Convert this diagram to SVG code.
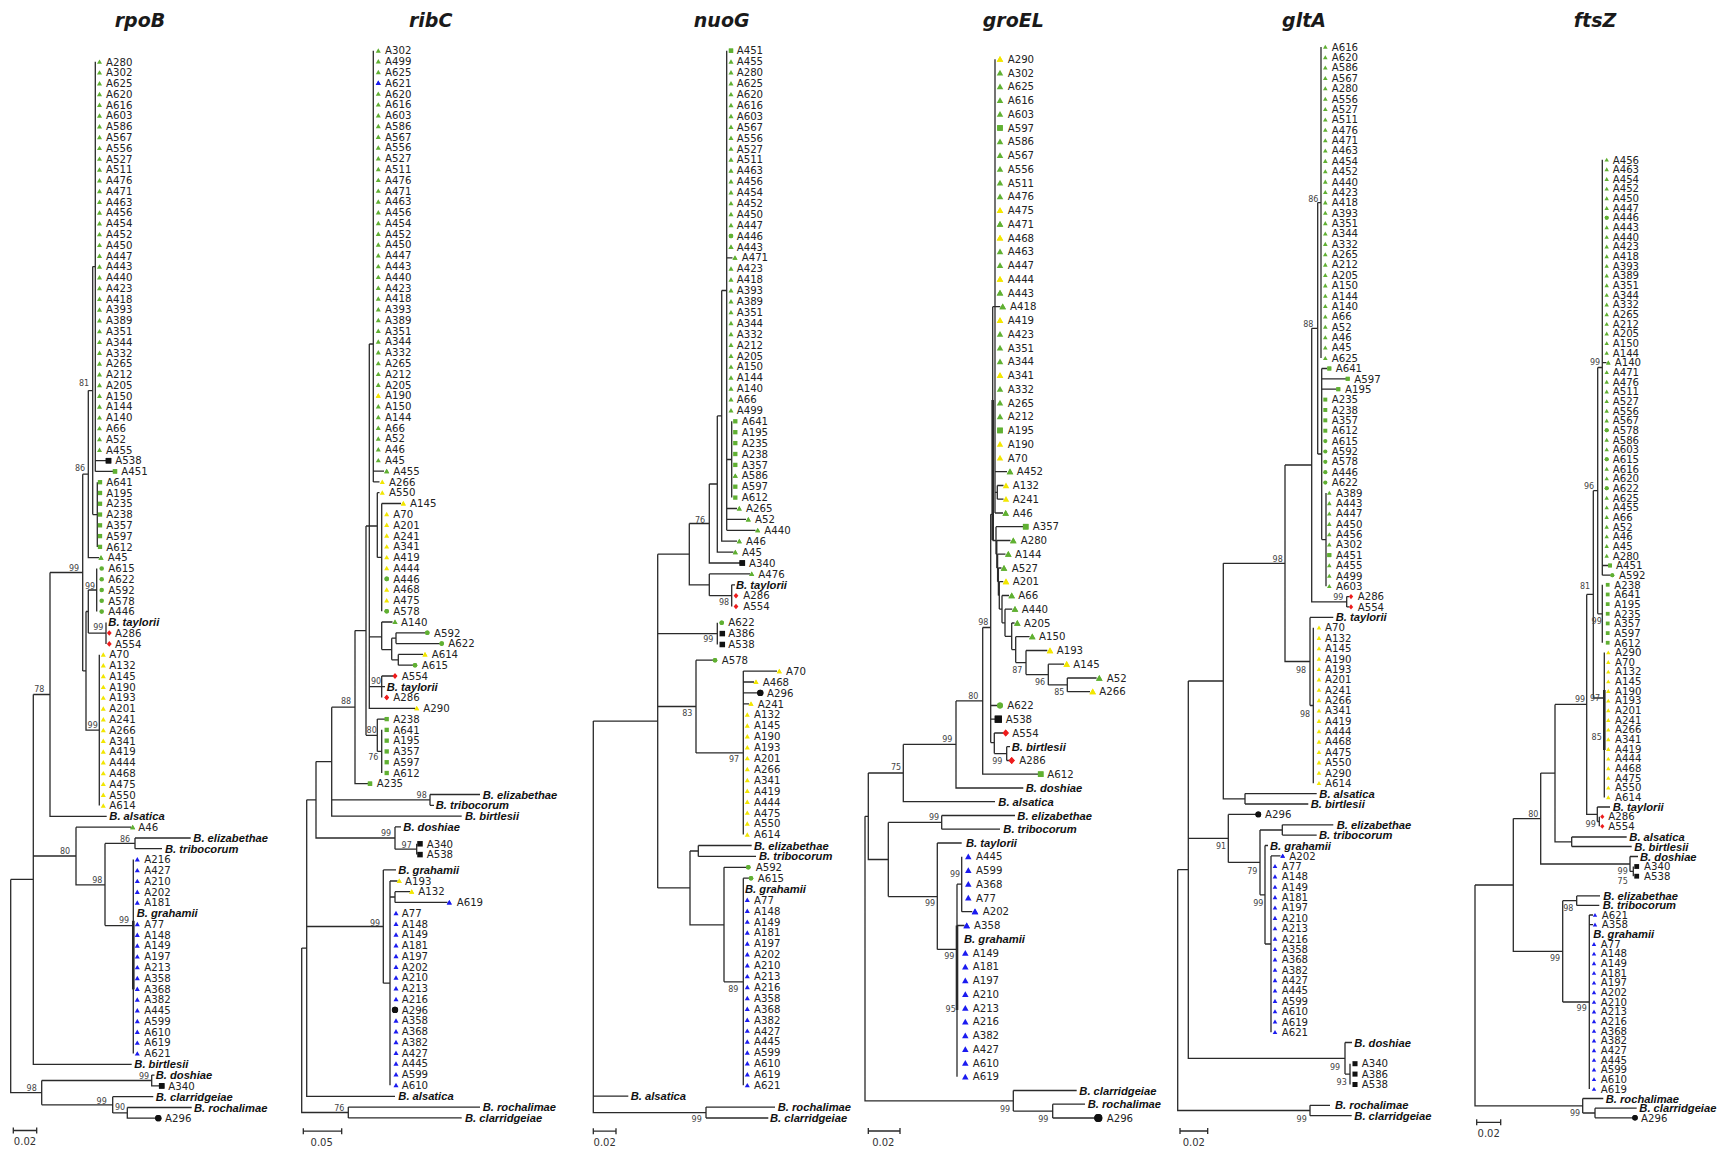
<svg xmlns="http://www.w3.org/2000/svg" width="1721" height="1152" viewBox="0 0 1721 1152">
<style>
.t{font:10.2px "DejaVu Sans",sans-serif;fill:#222}
.s{font:italic bold 11.2px "Liberation Sans",Arial,sans-serif;fill:#111}
.b{font:8px "DejaVu Sans",sans-serif;fill:#444;text-anchor:middle}
.h{font:italic bold 19px "DejaVu Sans",sans-serif;fill:#1a1a1a;text-anchor:middle}
.sc{font:10px "DejaVu Sans",sans-serif;fill:#333;text-anchor:middle}
.br{fill:none;stroke:#2a2a2a;stroke-width:1.3}
.th{fill:none;stroke:#2a2a2a;stroke-width:2.6}
.k{fill:none;stroke:none}
.Tg{marker-start:url(#Tg);marker-mid:url(#Tg);marker-end:url(#Tg)}
.Ty{marker-start:url(#Ty);marker-mid:url(#Ty);marker-end:url(#Ty)}
.Tb{marker-start:url(#Tb);marker-mid:url(#Tb);marker-end:url(#Tb)}
.Sg{marker-start:url(#Sg);marker-mid:url(#Sg);marker-end:url(#Sg)}
.Cg{marker-start:url(#Cg);marker-mid:url(#Cg);marker-end:url(#Cg)}
.Rd{marker-start:url(#Rd);marker-mid:url(#Rd);marker-end:url(#Rd)}
.Ks{marker-start:url(#Ks);marker-mid:url(#Ks);marker-end:url(#Ks)}
.Ok{marker-start:url(#Ok);marker-mid:url(#Ok);marker-end:url(#Ok)}
</style>
<defs>
<marker id="Tg" overflow="visible" orient="0"><path d="M0,-2L2.1,1.7H-2.1Z" fill="#60b032"/></marker>
<marker id="Ty" overflow="visible" orient="0"><path d="M0,-2L2.1,1.7H-2.1Z" fill="#f2e600"/></marker>
<marker id="Tb" overflow="visible" orient="0"><path d="M0,-2L2.1,1.7H-2.1Z" fill="#1b1bf0"/></marker>
<marker id="Sg" overflow="visible" orient="0"><path d="M-1.8,-1.8h3.6v3.6h-3.6z" fill="#60b032"/></marker>
<marker id="Cg" overflow="visible" orient="0"><circle r="1.9" fill="#60b032"/></marker>
<marker id="Rd" overflow="visible" orient="0"><path d="M0,-2.3L2,0L0,2.3L-2,0Z" fill="#ee1c1c"/></marker>
<marker id="Ks" overflow="visible" orient="0"><path d="M-2.3,-2.3h4.6v4.6h-4.6z" fill="#111"/></marker>
<marker id="Ok" overflow="visible" orient="0"><circle r="2.6" fill="#111"/></marker>
</defs>
<rect width="1721" height="1152" fill="#fff"/>

<!-- ===== rpoB ===== -->
<g id="tree-rpoB">
<text class="h" x="140" y="27">rpoB</text>
<g id="rpoB-edges">
<path class="br" d="M95.3,61.8V471.4M95.3,460.7H107M95.3,471.4H113.5M92.7,266.6H95.3M92.7,266.6V514.6M92.7,514.6H97.3M97.3,482.2V546.9M88.3,390.6H92.7M88.3,390.6V557.7H99M82.7,474.2H88.3M82.7,474.2V670.9M82.7,670.9H86M86,611.5V730.2H99.3M86,611.5H88.3M88.3,590V633.1M88.3,590H96.7M96.7,568.5V611.6M88.3,633.1H106M106,622.4V643.9M99.3,654.7V805.6M50,572.5H82.7M50,572.5V816.4H106.7M33.3,694.5H50M33.3,694.5V1064.3H131.7M33.3,856H76M76,827.2V884.8H105M76,827.2H131M105,843.4V925.6M105,843.4H135M135,838V848.7M135,838H190.7M135,848.7H162M105,925.6H133.3M133.3,859.5V1053.6M10.7,879.4H33.3M10.7,879.4V1092.7H41.7M41.7,1080.5V1104.8M41.7,1080.5H151.7M151.7,1075.1V1085.9H160M151.7,1075.1H154.5M41.7,1104.8H112.7M112.7,1096.7V1112.9M112.7,1096.7H153.3M112.7,1112.9H127.3M127.3,1107.5V1118.2H156M127.3,1107.5H191.7"/>
<path class="th" d="M133.3,920.8V989.4"/>
<path class="br" d="M13.3,1130.5H36.7M13.3,1127.5V1133.5M36.7,1127.5V1133.5"/>
</g>
<g id="rpoB-tips" style="stroke-width:1.2">
<path class="k Tg" d="M99.5,61.8v10.78v10.78v10.78v10.78v10.78v10.78v10.78v10.78v10.78v10.78v10.78v10.78v10.78v10.78v10.78v10.78v10.78v10.78v10.78v10.78v10.78v10.78v10.78v10.78v10.78v10.78v10.78v10.78v10.78v10.78v10.78v10.78v10.78v10.78v10.78v10.78M101,557.7h0M132.7,827.2h0"/>
<path class="k Ks" d="M108.5,460.7h0M161.7,1085.9h0"/>
<path class="k Sg" d="M115,471.4h0M100,482.2v10.78v10.78v10.78v10.78v10.78v10.78"/>
<path class="k Cg" d="M101.7,568.5v10.78v10.78v10.78v10.78"/>
<path class="k Rd" d="M109.3,633.1v10.78"/>
<path class="k Ty" d="M103.3,654.7v10.78v10.78v10.78v10.78v10.78v10.78v10.78v10.78v10.78v10.78v10.78v10.78v10.78v10.78"/>
<path class="k Tb" d="M137.3,859.5v10.78v10.78v10.78v10.78M137.3,924.2v10.78v10.78v10.78v10.78v10.78v10.78v10.78v10.78v10.78v10.78v10.78v10.78"/>
<path class="k Ok" d="M158.3,1118.2h0"/>
<text class="t"><tspan x="106" y="65.5">A280</tspan><tspan x="106" dy="10.78">A302</tspan><tspan x="106" dy="10.78">A625</tspan><tspan x="106" dy="10.78">A620</tspan><tspan x="106" dy="10.78">A616</tspan><tspan x="106" dy="10.78">A603</tspan><tspan x="106" dy="10.78">A586</tspan><tspan x="106" dy="10.78">A567</tspan><tspan x="106" dy="10.78">A556</tspan><tspan x="106" dy="10.78">A527</tspan><tspan x="106" dy="10.78">A511</tspan><tspan x="106" dy="10.78">A476</tspan><tspan x="106" dy="10.78">A471</tspan><tspan x="106" dy="10.78">A463</tspan><tspan x="106" dy="10.78">A456</tspan><tspan x="106" dy="10.78">A454</tspan><tspan x="106" dy="10.78">A452</tspan><tspan x="106" dy="10.78">A450</tspan><tspan x="106" dy="10.78">A447</tspan><tspan x="106" dy="10.78">A443</tspan><tspan x="106" dy="10.78">A440</tspan><tspan x="106" dy="10.78">A423</tspan><tspan x="106" dy="10.78">A418</tspan><tspan x="106" dy="10.78">A393</tspan><tspan x="106" dy="10.78">A389</tspan><tspan x="106" dy="10.78">A351</tspan><tspan x="106" dy="10.78">A344</tspan><tspan x="106" dy="10.78">A332</tspan><tspan x="106" dy="10.78">A265</tspan><tspan x="106" dy="10.78">A212</tspan><tspan x="106" dy="10.78">A205</tspan><tspan x="106" dy="10.78">A150</tspan><tspan x="106" dy="10.78">A144</tspan><tspan x="106" dy="10.78">A140</tspan><tspan x="106" dy="10.78">A66</tspan><tspan x="106" dy="10.78">A52</tspan><tspan x="106" dy="10.78">A455</tspan><tspan x="115.3" dy="10.78">A538</tspan><tspan x="121.3" dy="10.78">A451</tspan><tspan x="106.3" dy="10.78">A641</tspan><tspan x="106.3" dy="10.78">A195</tspan><tspan x="106.3" dy="10.78">A235</tspan><tspan x="106.3" dy="10.78">A238</tspan><tspan x="106.3" dy="10.78">A357</tspan><tspan x="106.3" dy="10.78">A597</tspan><tspan x="106.3" dy="10.78">A612</tspan><tspan x="107.7" dy="10.78">A45</tspan><tspan x="108.3" dy="10.78">A615</tspan><tspan x="108.3" dy="10.78">A622</tspan><tspan x="108.3" dy="10.78">A592</tspan><tspan x="108.3" dy="10.78">A578</tspan><tspan x="108.3" dy="10.78">A446</tspan><tspan x="115" y="636.8">A286</tspan><tspan x="115" dy="10.78">A554</tspan><tspan x="109.3" dy="10.78">A70</tspan><tspan x="109.3" dy="10.78">A132</tspan><tspan x="109.3" dy="10.78">A145</tspan><tspan x="109.3" dy="10.78">A190</tspan><tspan x="109.3" dy="10.78">A193</tspan><tspan x="109.3" dy="10.78">A201</tspan><tspan x="109.3" dy="10.78">A241</tspan><tspan x="109.3" dy="10.78">A266</tspan><tspan x="109.3" dy="10.78">A341</tspan><tspan x="109.3" dy="10.78">A419</tspan><tspan x="109.3" dy="10.78">A444</tspan><tspan x="109.3" dy="10.78">A468</tspan><tspan x="109.3" dy="10.78">A475</tspan><tspan x="109.3" dy="10.78">A550</tspan><tspan x="109.3" dy="10.78">A614</tspan><tspan x="138.3" y="830.9">A46</tspan><tspan x="144.3" y="863.2">A216</tspan><tspan x="144.3" dy="10.78">A427</tspan><tspan x="144.3" dy="10.78">A210</tspan><tspan x="144.3" dy="10.78">A202</tspan><tspan x="144.3" dy="10.78">A181</tspan><tspan x="144.3" y="927.9">A77</tspan><tspan x="144.3" dy="10.78">A148</tspan><tspan x="144.3" dy="10.78">A149</tspan><tspan x="144.3" dy="10.78">A197</tspan><tspan x="144.3" dy="10.78">A213</tspan><tspan x="144.3" dy="10.78">A358</tspan><tspan x="144.3" dy="10.78">A368</tspan><tspan x="144.3" dy="10.78">A382</tspan><tspan x="144.3" dy="10.78">A445</tspan><tspan x="144.3" dy="10.78">A599</tspan><tspan x="144.3" dy="10.78">A610</tspan><tspan x="144.3" dy="10.78">A619</tspan><tspan x="144.3" dy="10.78">A621</tspan><tspan x="168.3" y="1089.6">A340</tspan><tspan x="165" y="1121.9">A296</tspan></text>
<text class="s"><tspan x="108.3" y="626.4">B. taylorii</tspan><tspan x="109.3" y="820.4">B. alsatica</tspan><tspan x="193.3" y="842">B. elizabethae</tspan><tspan x="165" y="852.7">B. tribocorum</tspan><tspan x="136.7" y="917.4">B. grahamii</tspan><tspan x="134.3" y="1068.3">B. birtlesii</tspan><tspan x="155.7" y="1079.1">B. doshiae</tspan><tspan x="155.7" y="1100.7">B. clarridgeiae</tspan><tspan x="194" y="1111.5">B. rochalimae</tspan></text>
</g>
<g id="rpoB-support">
<text class="b" x="84" y="386">81</text><text class="b" x="80" y="471">86</text><text class="b" x="74" y="571">99</text><text class="b" x="90" y="588.5">99</text><text class="b" x="98.3" y="630.4">99</text><text class="b" x="92.7" y="728">99</text><text class="b" x="39.3" y="691.7">78</text><text class="b" x="65" y="854">80</text><text class="b" x="125" y="842">86</text><text class="b" x="97.3" y="883">98</text><text class="b" x="124" y="922.6">99</text><text class="b" x="31.7" y="1090.7">98</text><text class="b" x="144" y="1078.5">99</text><text class="b" x="101.7" y="1103.7">99</text><text class="b" x="120" y="1110">90</text>
<text class="sc" x="25" y="1145">0.02</text>
</g>
</g>

<!-- ===== ribC ===== -->
<g id="tree-ribC">
<text class="h" x="430.7" y="27">ribC</text>
<g id="ribC-edges">
<path class="br" d="M373.3,50.7V481.9M373.3,471.1H384M373.3,481.9H379.5M369.3,344H373.3M369.3,344V708.3H415M366,526H377.3M377.3,492.7V557.4M377.3,492.7H379.5M377.3,557.4H381.7M381.7,503.5V611.3M381.7,503.5H401M369.3,636.8H381.7M381.7,622V649.6M381.7,622H392.5M381.7,649.6H391.7M391.7,638.2V659.8M391.7,638.2H396M396,632.8V643.6M396,632.8H425M396,643.6H440M391.7,659.8H398.3M398.3,654.4V665.2M398.3,654.4H423M398.3,665.2H413M369.3,686.7H381.7M381.7,676V697.5M381.7,676H393M381.7,686.7H385M366,526V735.3M355,630.6H366M366,735.3H377.3M377.3,719.1V751.4M377.3,719.1H385M377.3,751.4H381.7M381.7,729.8V772.9M355,630.6V783.7H368.5M331.7,707.2H355M331.7,707.2V816.1H461.7M331.7,799.9H430M430,794.5V805.3M430,794.5H480M430,805.3H434M316,761.6H331.7M316,761.6V838H395M395,826.9V849.2M395,826.9H401M395,849.2H416.7M416.7,843.8V854.6M306.7,799.8H316M306.7,799.8V1096.4H395M306.7,926.5H383.3M383.3,869.9V983.2M383.3,869.9H396M383.3,983.2H390M390,881V1085.2M390,881H397.5M390,897H395M395,891.7V902.4M395,891.7H410M395,902.4H447.5M301.7,948.1H306.7M301.7,948.1V1112.5H348.3M348.3,1107.1V1117.9M348.3,1107.1H480M348.3,1117.9H461.7"/>
<path class="br" d="M303.3,1131.2H341.7M303.3,1128.2V1134.2M341.7,1128.2V1134.2"/>
</g>
<g id="ribC-tips" style="stroke-width:1.2">
<path class="k Tg" d="M378.3,50.7v10.78v10.78M378.3,93.8v10.78v10.78v10.78v10.78v10.78v10.78v10.78v10.78v10.78v10.78v10.78v10.78v10.78v10.78v10.78v10.78v10.78v10.78v10.78v10.78v10.78v10.78v10.78v10.78v10.78v10.78v10.78M378.3,406.4v10.78v10.78v10.78v10.78v10.78M386.7,471.1h0M395,622h0"/>
<path class="k Tb" d="M378.3,83h0M449.3,902.4h0M396,913.2v10.75v10.75v10.75v10.75v10.75v10.75v10.75v10.75M396,1020.7v10.75v10.75v10.75v10.75v10.75v10.75"/>
<path class="k Ty" d="M378.3,395.7h0M382.3,481.9v10.78M403.3,503.5h0M386.7,514.2v10.78v10.78v10.78v10.78v10.78M386.7,589.7v10.78M425,654.4h0M416.7,708.3h0M399.3,881h0M411.7,891.7h0"/>
<path class="k Cg" d="M386.7,578.9h0M386.7,611.3h0M427.3,632.8h0M441.7,643.6h0M415,665.2h0"/>
<path class="k Rd" d="M395,676h0M386.7,697.5h0"/>
<path class="k Sg" d="M386.7,719.1v10.78v10.78v10.78v10.78v10.78M370,783.7h0"/>
<path class="k Ks" d="M420,843.8v10.8"/>
<path class="k Ok" d="M395,1009.95h0"/>
<text class="t"><tspan x="385" y="54.4">A302</tspan><tspan x="385" dy="10.78">A499</tspan><tspan x="385" dy="10.78">A625</tspan><tspan x="385" dy="10.78">A621</tspan><tspan x="385" dy="10.78">A620</tspan><tspan x="385" dy="10.78">A616</tspan><tspan x="385" dy="10.78">A603</tspan><tspan x="385" dy="10.78">A586</tspan><tspan x="385" dy="10.78">A567</tspan><tspan x="385" dy="10.78">A556</tspan><tspan x="385" dy="10.78">A527</tspan><tspan x="385" dy="10.78">A511</tspan><tspan x="385" dy="10.78">A476</tspan><tspan x="385" dy="10.78">A471</tspan><tspan x="385" dy="10.78">A463</tspan><tspan x="385" dy="10.78">A456</tspan><tspan x="385" dy="10.78">A454</tspan><tspan x="385" dy="10.78">A452</tspan><tspan x="385" dy="10.78">A450</tspan><tspan x="385" dy="10.78">A447</tspan><tspan x="385" dy="10.78">A443</tspan><tspan x="385" dy="10.78">A440</tspan><tspan x="385" dy="10.78">A423</tspan><tspan x="385" dy="10.78">A418</tspan><tspan x="385" dy="10.78">A393</tspan><tspan x="385" dy="10.78">A389</tspan><tspan x="385" dy="10.78">A351</tspan><tspan x="385" dy="10.78">A344</tspan><tspan x="385" dy="10.78">A332</tspan><tspan x="385" dy="10.78">A265</tspan><tspan x="385" dy="10.78">A212</tspan><tspan x="385" dy="10.78">A205</tspan><tspan x="385" dy="10.78">A190</tspan><tspan x="385" dy="10.78">A150</tspan><tspan x="385" dy="10.78">A144</tspan><tspan x="385" dy="10.78">A66</tspan><tspan x="385" dy="10.78">A52</tspan><tspan x="385" dy="10.78">A46</tspan><tspan x="385" dy="10.78">A45</tspan><tspan x="393.3" dy="10.78">A455</tspan><tspan x="389" dy="10.78">A266</tspan><tspan x="389" dy="10.78">A550</tspan><tspan x="410" dy="10.78">A145</tspan><tspan x="393.3" dy="10.78">A70</tspan><tspan x="393.3" dy="10.78">A201</tspan><tspan x="393.3" dy="10.78">A241</tspan><tspan x="393.3" dy="10.78">A341</tspan><tspan x="393.3" dy="10.78">A419</tspan><tspan x="393.3" dy="10.78">A444</tspan><tspan x="393.3" dy="10.78">A446</tspan><tspan x="393.3" dy="10.78">A468</tspan><tspan x="393.3" dy="10.78">A475</tspan><tspan x="393.3" dy="10.78">A578</tspan><tspan x="401" dy="10.78">A140</tspan><tspan x="434" dy="10.78">A592</tspan><tspan x="448.3" dy="10.78">A622</tspan><tspan x="431.7" dy="10.78">A614</tspan><tspan x="421.7" dy="10.78">A615</tspan><tspan x="401.7" dy="10.78">A554</tspan><tspan x="393.3" dy="21.56">A286</tspan><tspan x="423.3" dy="10.78">A290</tspan><tspan x="393.3" dy="10.78">A238</tspan><tspan x="393.3" dy="10.78">A641</tspan><tspan x="393.3" dy="10.78">A195</tspan><tspan x="393.3" dy="10.78">A357</tspan><tspan x="393.3" dy="10.78">A597</tspan><tspan x="393.3" dy="10.78">A612</tspan><tspan x="376.7" dy="10.78">A235</tspan><tspan x="426.7" y="847.5">A340</tspan><tspan x="426.7" y="858.3">A538</tspan><tspan x="405" y="884.7">A193</tspan><tspan x="418.3" y="895.4">A132</tspan><tspan x="456.7" y="906.1">A619</tspan><tspan x="401.7" y="916.9">A77</tspan><tspan x="401.7" dy="10.75">A148</tspan><tspan x="401.7" dy="10.75">A149</tspan><tspan x="401.7" dy="10.75">A181</tspan><tspan x="401.7" dy="10.75">A197</tspan><tspan x="401.7" dy="10.75">A202</tspan><tspan x="401.7" dy="10.75">A210</tspan><tspan x="401.7" dy="10.75">A213</tspan><tspan x="401.7" dy="10.75">A216</tspan><tspan x="401.7" dy="10.75">A296</tspan><tspan x="401.7" dy="10.75">A358</tspan><tspan x="401.7" dy="10.75">A368</tspan><tspan x="401.7" dy="10.75">A382</tspan><tspan x="401.7" dy="10.75">A427</tspan><tspan x="401.7" dy="10.75">A445</tspan><tspan x="401.7" dy="10.75">A599</tspan><tspan x="401.7" dy="10.75">A610</tspan></text>
<text class="s"><tspan x="386.7" y="690.7">B. taylorii</tspan><tspan x="482.7" y="798.5">B. elizabethae</tspan><tspan x="435.7" y="809.3">B. tribocorum</tspan><tspan x="465" y="820.1">B. birtlesii</tspan><tspan x="403.3" y="830.9">B. doshiae</tspan><tspan x="398.3" y="873.9">B. grahamii</tspan><tspan x="398.3" y="1100.4">B. alsatica</tspan><tspan x="482.7" y="1111.1">B. rochalimae</tspan><tspan x="465" y="1121.9">B. clarridgeiae</tspan></text>
</g>
<g id="ribC-support">
<text class="b" x="346" y="703.6">88</text><text class="b" x="376" y="684.3">90</text><text class="b" x="371.7" y="733.3">80</text><text class="b" x="373.3" y="760.4">76</text><text class="b" x="421.7" y="797.5">98</text><text class="b" x="386" y="836.4">99</text><text class="b" x="406.7" y="847.6">97</text><text class="b" x="375" y="925.5">99</text><text class="b" x="339.3" y="1111.1">76</text>
<text class="sc" x="321.7" y="1146">0.05</text>
</g>
</g>

<!-- ===== nuoG ===== -->
<g id="tree-nuoG">
<text class="h" x="721.7" y="27">nuoG</text>
<g id="nuoG-edges">
<path class="br" d="M726.7,50.7V530.3M726.7,257.8H732.5M726.7,459.5H731.7M731.7,421.3V497.6M726.7,508.5H737M726.7,519.4H746M726.7,530.3H755.5M721.7,290.5H726.7M721.7,290.5V541.2H737M717.3,415.9H721.7M717.3,415.9V552.1H733.5M709.3,484H717.3M709.3,484V563H740M689.3,523.5H709.3M689.3,523.5V584.8H709.3M709.3,573.9V595.7M709.3,573.9H750M709.3,595.7H731.7M731.7,584.8V606.6M731.7,584.8H735M657.7,554.2H689.3M657.7,633.6H717.3M717.3,622.7V644.5M657.7,706.5H696M696,660.2V752.9M696,660.2H713M696,752.9H743.3M743.3,671.1V834.6M743.3,671.1H777M743.3,682H754M743.3,692.9H758M743.3,703.8H749M690,851H698.3M698.3,845.5V856.4M698.3,845.5H751.7M698.3,856.4H756M690,851V924.8H724M724,867.3V981.8M724,867.3H746.5M724,981.8H743.3M743.3,878.2V1085.3M743.3,878.2H749.5M657.7,887.9H690M657.7,554.2V887.9M593.3,721.1H657.7M593.3,721.1V1112.6H706M593.3,1096.2H628.3M706,1107.1V1118M706,1107.1H775M706,1118H768.3"/>
<path class="br" d="M593.3,1131.2H616M593.3,1128.2V1134.2M616,1128.2V1134.2"/>
</g>
<g id="nuoG-tips" style="stroke-width:1.2">
<path class="k Sg" d="M731,50.7h0M735.3,421.3v10.9v10.9v10.9v10.9M735.3,486.7v10.9"/>
<path class="k Tg" d="M731,61.6v10.9v10.9v10.9v10.9v10.9v10.9v10.9v10.9v10.9v10.9v10.9v10.9v10.9v10.9v10.9M731,246.9h0M735,257.8h0M731,268.7v10.9v10.9v10.9v10.9v10.9v10.9v10.9v10.9v10.9v10.9v10.9v10.9v10.9M735.3,475.8h0M739.3,508.5h0M748.3,519.4h0M757.7,530.3h0M739.3,541.2h0M735.3,552.1h0M751.7,573.9h0"/>
<path class="k Cg" d="M731,236h0M721.7,622.7h0M715,660.2h0M748.3,867.3h0M751,878.2h0"/>
<path class="k Ks" d="M742.3,563h0M722.3,633.6v10.9"/>
<path class="k Rd" d="M736,595.7v10.9"/>
<path class="k Ty" d="M779.3,671.1h0M756,682h0M751,703.8h0M747.3,714.7v10.9v10.9v10.9v10.9v10.9v10.9v10.9v10.9v10.9v10.9v10.9"/>
<path class="k Ok" d="M760.3,692.9h0"/>
<path class="k Tb" d="M747.3,900v10.9v10.9v10.9v10.9v10.9v10.9v10.9v10.9v10.9v10.9v10.9v10.9v10.9v10.9v10.9v10.9v10.9"/>
<text class="t"><tspan x="736.7" y="54.4">A451</tspan><tspan x="736.7" dy="10.9">A455</tspan><tspan x="736.7" dy="10.9">A280</tspan><tspan x="736.7" dy="10.9">A625</tspan><tspan x="736.7" dy="10.9">A620</tspan><tspan x="736.7" dy="10.9">A616</tspan><tspan x="736.7" dy="10.9">A603</tspan><tspan x="736.7" dy="10.9">A567</tspan><tspan x="736.7" dy="10.9">A556</tspan><tspan x="736.7" dy="10.9">A527</tspan><tspan x="736.7" dy="10.9">A511</tspan><tspan x="736.7" dy="10.9">A463</tspan><tspan x="736.7" dy="10.9">A456</tspan><tspan x="736.7" dy="10.9">A454</tspan><tspan x="736.7" dy="10.9">A452</tspan><tspan x="736.7" dy="10.9">A450</tspan><tspan x="736.7" dy="10.9">A447</tspan><tspan x="736.7" dy="10.9">A446</tspan><tspan x="736.7" dy="10.9">A443</tspan><tspan x="741.7" dy="10.9">A471</tspan><tspan x="736.7" dy="10.9">A423</tspan><tspan x="736.7" dy="10.9">A418</tspan><tspan x="736.7" dy="10.9">A393</tspan><tspan x="736.7" dy="10.9">A389</tspan><tspan x="736.7" dy="10.9">A351</tspan><tspan x="736.7" dy="10.9">A344</tspan><tspan x="736.7" dy="10.9">A332</tspan><tspan x="736.7" dy="10.9">A212</tspan><tspan x="736.7" dy="10.9">A205</tspan><tspan x="736.7" dy="10.9">A150</tspan><tspan x="736.7" dy="10.9">A144</tspan><tspan x="736.7" dy="10.9">A140</tspan><tspan x="736.7" dy="10.9">A66</tspan><tspan x="736.7" dy="10.9">A499</tspan><tspan x="741.7" dy="10.9">A641</tspan><tspan x="741.7" dy="10.9">A195</tspan><tspan x="741.7" dy="10.9">A235</tspan><tspan x="741.7" dy="10.9">A238</tspan><tspan x="741.7" dy="10.9">A357</tspan><tspan x="741.7" dy="10.9">A586</tspan><tspan x="741.7" dy="10.9">A597</tspan><tspan x="741.7" dy="10.9">A612</tspan><tspan x="746" dy="10.9">A265</tspan><tspan x="755" dy="10.9">A52</tspan><tspan x="764.3" dy="10.9">A440</tspan><tspan x="746" dy="10.9">A46</tspan><tspan x="742" dy="10.9">A45</tspan><tspan x="749" dy="10.9">A340</tspan><tspan x="758.3" dy="10.9">A476</tspan><tspan x="743.3" dy="21.8">A286</tspan><tspan x="743.3" dy="10.9">A554</tspan><tspan x="728.3" y="626.4">A622</tspan><tspan x="728.3" dy="10.9">A386</tspan><tspan x="728.3" dy="10.9">A538</tspan><tspan x="721.7" y="663.9">A578</tspan><tspan x="786" y="674.8">A70</tspan><tspan x="762.7" dy="10.9">A468</tspan><tspan x="767" dy="10.9">A296</tspan><tspan x="757.7" dy="10.9">A241</tspan><tspan x="754" dy="10.9">A132</tspan><tspan x="754" dy="10.9">A145</tspan><tspan x="754" dy="10.9">A190</tspan><tspan x="754" dy="10.9">A193</tspan><tspan x="754" dy="10.9">A201</tspan><tspan x="754" dy="10.9">A266</tspan><tspan x="754" dy="10.9">A341</tspan><tspan x="754" dy="10.9">A419</tspan><tspan x="754" dy="10.9">A444</tspan><tspan x="754" dy="10.9">A475</tspan><tspan x="754" dy="10.9">A550</tspan><tspan x="754" dy="10.9">A614</tspan><tspan x="755.7" y="871">A592</tspan><tspan x="757.7" dy="10.9">A615</tspan><tspan x="754" y="903.7">A77</tspan><tspan x="754" dy="10.9">A148</tspan><tspan x="754" dy="10.9">A149</tspan><tspan x="754" dy="10.9">A181</tspan><tspan x="754" dy="10.9">A197</tspan><tspan x="754" dy="10.9">A202</tspan><tspan x="754" dy="10.9">A210</tspan><tspan x="754" dy="10.9">A213</tspan><tspan x="754" dy="10.9">A216</tspan><tspan x="754" dy="10.9">A358</tspan><tspan x="754" dy="10.9">A368</tspan><tspan x="754" dy="10.9">A382</tspan><tspan x="754" dy="10.9">A427</tspan><tspan x="754" dy="10.9">A445</tspan><tspan x="754" dy="10.9">A599</tspan><tspan x="754" dy="10.9">A610</tspan><tspan x="754" dy="10.9">A619</tspan><tspan x="754" dy="10.9">A621</tspan></text>
<text class="s"><tspan x="736" y="588.8">B. taylorii</tspan><tspan x="754" y="849.5">B. elizabethae</tspan><tspan x="759" y="860.4">B. tribocorum</tspan><tspan x="745" y="893.1">B. grahamii</tspan><tspan x="630.7" y="1100.2">B. alsatica</tspan><tspan x="777.7" y="1111.1">B. rochalimae</tspan><tspan x="770" y="1122">B. clarridgeiae</tspan></text>
</g>
<g id="nuoG-support">
<text class="b" x="700" y="522.7">76</text><text class="b" x="724" y="604.5">98</text><text class="b" x="708.3" y="641.6">99</text><text class="b" x="687.3" y="715.8">83</text><text class="b" x="734" y="762.2">97</text><text class="b" x="733.3" y="991.6">89</text><text class="b" x="696.7" y="1121.5">99</text>
<text class="sc" x="604.7" y="1146">0.02</text>
</g>
</g>

<!-- ===== groEL ===== -->
<g id="tree-groEL">
<text class="h" x="1013.3" y="27">groEL</text>
<g id="groEL-edges">
<path class="br" d="M995,59.2V513M992.7,306.7H1000.3M995,471.7H1007M995,492.4H997.3M997.3,485.5V499.2M997.3,485.5H1003.5M997.3,499.2H1003.5M995,513H1003M992.7,306.7V540.5M992.7,540.5H996M996,526.7V554.2M996,526.7H1023M996,554.2H996.8M996.8,540.5V568M996.8,540.5H1010.5M996.8,568H997.6M997.6,554.2V581.7M997.6,554.2H1005.5M997.6,581.7H998.4M998.4,568V595.4M998.4,568H1001.5M998.4,595.4H999.3M999.3,581.7V609.1M999.3,581.7H1003.3M999.3,609.1H1002M1002,595.5V622.8M1002,595.5H1009M1002,622.8H1005M1005,609.2V636.3M1005,609.2H1012.3M1005,636.3H1011.7M1011.7,623V649.6M1011.7,623H1014.6M1011.7,649.6H1015.7M1015.7,636.7V662.6M1015.7,636.7H1029.6M1015.7,662.6H1026M1026,650.5V674.6M1026,650.5H1047.3M1026,674.6H1048.3M1048.3,664.2V684.9M1048.3,664.2H1064M1048.3,684.9H1067.3M1067.3,678V691.7M1067.3,678H1096.6M1067.3,691.7H1090M990.7,514.3H992.7M990.7,514.3V742.6M990.7,705.5H997.3M990.7,719.2H995.5M990.7,742.6H994.3M994.3,733V753.6M994.3,733H1003M994.3,753.6H1006.7M1006.7,746.7V760.5M1006.7,746.7H1010M1006.7,760.5H1009M982.7,627.5H990.7M982.7,627.5V774.2H1038M956,700.9H982.7M956,700.9V788H1023.3M903.3,744.4H956M903.3,744.4V801.7H995M868.3,773H903.3M868.3,773V859.5H888.3M888.3,822.4V896.6M888.3,822.4H941.7M941.7,815.5V829.2M941.7,815.5H1015M941.7,829.2H1000M888.3,896.6H937.3M937.3,843V949.4M937.3,843H961.7M937.3,949.4H957M957,884.2V1076.7M957,884.2H961.7M961.7,856.7V911.7M961.7,911.7H972.3M957,925.5H964.5M865,816.3H868.3M865,816.3V1100.8H1013.3M1013.3,1090.5V1111.1M1013.3,1090.5H1076.7M1013.3,1111.1H1052.7M1052.7,1104.2V1118M1052.7,1104.2H1085M1052.7,1118H1096"/>
<path class="th" d="M957,925.5V1010M992.7,400V540"/>
<path class="br" d="M868.3,1131H900M868.3,1128V1134M900,1128V1134"/>
</g>
<g id="groEL-tips" style="stroke-width:1.55">
<path class="k Ty" d="M1000,59.2h0M1000,210.45h0M1000,237.95h0M1000,279.2h0M1000,320.45h0M1000,375.45h0M1000,444.2v13.75M1006,485.5v13.7M1006,581.7h0M1050,650.5h0M1066.7,664.2h0M1092.7,691.7h0"/>
<path class="k Sg" d="M1000,127.95h0M1000,430.45h0M1025.7,526.7h0M1040.7,774.2h0"/>
<path class="k Tg" d="M1000,72.95v13.75v13.75v13.75M1000,141.7v13.75v13.75v13.75v13.75M1000,224.2h0M1000,251.7v13.75M1000,292.95h0M1000,334.2v13.75v13.75M1000,389.2v13.75v13.75M1002.7,306.7h0M1010,471.7h0M1005.7,513h0M1013.3,540.5h0M1008.3,554.2h0M1004,568h0M1011.7,595.5h0M1015,609.2h0M1017.3,623h0M1032.3,636.7h0M1099.3,678h0"/>
<path class="k Cg" d="M1000,705.5h0"/>
<path class="k Ks" d="M998.3,719.2h0"/>
<path class="k Rd" d="M1005.7,733h0M1011.7,760.5h0"/>
<path class="k Tb" d="M968.3,856.7v13.75v13.75v13.75M975,911.7h0M966.7,925.5h0M965.3,953v13.75v13.75v13.75v13.75v13.75v13.75v13.75v13.75v13.75"/>
<path class="k Ok" d="M1098.3,1118h0"/>
<text class="t"><tspan x="1007.7" y="62.9">A290</tspan><tspan x="1007.7" dy="13.75">A302</tspan><tspan x="1007.7" dy="13.75">A625</tspan><tspan x="1007.7" dy="13.75">A616</tspan><tspan x="1007.7" dy="13.75">A603</tspan><tspan x="1007.7" dy="13.75">A597</tspan><tspan x="1007.7" dy="13.75">A586</tspan><tspan x="1007.7" dy="13.75">A567</tspan><tspan x="1007.7" dy="13.75">A556</tspan><tspan x="1007.7" dy="13.75">A511</tspan><tspan x="1007.7" dy="13.75">A476</tspan><tspan x="1007.7" dy="13.75">A475</tspan><tspan x="1007.7" dy="13.75">A471</tspan><tspan x="1007.7" dy="13.75">A468</tspan><tspan x="1007.7" dy="13.75">A463</tspan><tspan x="1007.7" dy="13.75">A447</tspan><tspan x="1007.7" dy="13.75">A444</tspan><tspan x="1007.7" dy="13.75">A443</tspan><tspan x="1010" dy="13.75">A418</tspan><tspan x="1007.7" dy="13.75">A419</tspan><tspan x="1007.7" dy="13.75">A423</tspan><tspan x="1007.7" dy="13.75">A351</tspan><tspan x="1007.7" dy="13.75">A344</tspan><tspan x="1007.7" dy="13.75">A341</tspan><tspan x="1007.7" dy="13.75">A332</tspan><tspan x="1007.7" dy="13.75">A265</tspan><tspan x="1007.7" dy="13.75">A212</tspan><tspan x="1007.7" dy="13.75">A195</tspan><tspan x="1007.7" dy="13.75">A190</tspan><tspan x="1007.7" dy="13.75">A70</tspan><tspan x="1016.7" dy="13.75">A452</tspan><tspan x="1012.7" dy="13.75">A132</tspan><tspan x="1012.7" dy="13.75">A241</tspan><tspan x="1012.7" dy="13.75">A46</tspan><tspan x="1032.7" dy="13.75">A357</tspan><tspan x="1020.7" dy="13.75">A280</tspan><tspan x="1015" dy="13.75">A144</tspan><tspan x="1011.7" dy="13.75">A527</tspan><tspan x="1012.7" dy="13.75">A201</tspan><tspan x="1018.3" dy="13.75">A66</tspan><tspan x="1021.7" dy="13.75">A440</tspan><tspan x="1024" dy="13.75">A205</tspan><tspan x="1039" dy="13.75">A150</tspan><tspan x="1056.7" dy="13.75">A193</tspan><tspan x="1073.3" dy="13.75">A145</tspan><tspan x="1106.7" dy="13.75">A52</tspan><tspan x="1099.3" dy="13.75">A266</tspan><tspan x="1007.3" dy="13.75">A622</tspan><tspan x="1005.7" dy="13.75">A538</tspan><tspan x="1012.3" dy="13.75">A554</tspan><tspan x="1019.3" dy="27.5">A286</tspan><tspan x="1047.3" dy="13.75">A612</tspan><tspan x="976" y="860.4">A445</tspan><tspan x="976" dy="13.75">A599</tspan><tspan x="976" dy="13.75">A368</tspan><tspan x="976" dy="13.75">A77</tspan><tspan x="982.7" dy="13.75">A202</tspan><tspan x="974" dy="13.75">A358</tspan><tspan x="972.7" dy="27.5">A149</tspan><tspan x="972.7" dy="13.75">A181</tspan><tspan x="972.7" dy="13.75">A197</tspan><tspan x="972.7" dy="13.75">A210</tspan><tspan x="972.7" dy="13.75">A213</tspan><tspan x="972.7" dy="13.75">A216</tspan><tspan x="972.7" dy="13.75">A382</tspan><tspan x="972.7" dy="13.75">A427</tspan><tspan x="972.7" dy="13.75">A610</tspan><tspan x="972.7" dy="13.75">A619</tspan><tspan x="1106.7" y="1121.7">A296</tspan></text>
<text class="s"><tspan x="1011.7" y="750.7">B. birtlesii</tspan><tspan x="1025.7" y="792">B. doshiae</tspan><tspan x="998.3" y="805.7">B. alsatica</tspan><tspan x="1017.3" y="819.5">B. elizabethae</tspan><tspan x="1003.3" y="833.2">B. tribocorum</tspan><tspan x="966" y="847">B. taylorii</tspan><tspan x="964" y="943.2">B. grahamii</tspan><tspan x="1079.3" y="1094.5">B. clarridgeiae</tspan><tspan x="1087.7" y="1108.2">B. rochalimae</tspan></text>
</g>
<g id="groEL-support">
<text class="b" x="983.3" y="624.9">98</text><text class="b" x="1017.3" y="673.1">87</text><text class="b" x="1040" y="685">96</text><text class="b" x="1059.3" y="695.4">85</text><text class="b" x="973.3" y="699.1">80</text><text class="b" x="947.3" y="741.8">99</text><text class="b" x="997.3" y="764.1">99</text><text class="b" x="896" y="770.4">75</text><text class="b" x="934" y="819.7">99</text><text class="b" x="955" y="877.3">99</text><text class="b" x="930" y="906.2">99</text><text class="b" x="949.3" y="958.9">99</text><text class="b" x="950.7" y="1012">95</text><text class="b" x="1005" y="1111.9">99</text><text class="b" x="1043.3" y="1121.5">99</text>
<text class="sc" x="883.3" y="1146">0.02</text>
</g>
</g>

<!-- ===== gltA ===== -->
<g id="tree-gltA">
<text class="h" x="1304" y="27">gltA</text>
<g id="gltA-edges">
<path class="br" d="M1321,47V358.1M1317.7,202.6H1321M1317.7,202.6V454M1317.7,454H1321.7M1321.7,368.5V539.6M1321.7,368.5H1327M1321.7,378.8H1346M1321.7,389.2H1336.7M1321.7,539.6H1326M1326,492.9V586.2M1311.7,328.3H1317.7M1311.7,328.3V601.8H1346.7M1346.7,596.6V606.9M1346.7,596.6H1349M1346.7,606.9H1349M1285,465H1311.7M1285,465V661.5H1310M1310,617.4V705.5M1310,617.4H1333.3M1310,705.5H1313.3M1313.3,627.7V783.3M1223.3,563.3H1285M1223.3,563.3V798.8H1245M1245,793.6V804M1245,793.6H1316.7M1245,804H1308.3M1188.3,681H1223.3M1188.3,681V1058.3H1345M1188.3,838.4H1228.3M1228.3,814.4V862.4M1228.3,814.4H1256M1228.3,862.4H1260M1260,830V894.8M1260,830H1282.3M1282.3,824.8V835.1M1282.3,824.8H1333.3M1282.3,835.1H1316.7M1260,894.8H1265M1265,845.5V944M1265,845.5H1268M1265,944H1271M1271,855.9V1032.2M1271,855.9H1280.5M1345,1042.5V1074.1M1345,1042.5H1352M1345,1074.1H1350M1350,1063.7V1084.5M1177.7,869.7H1188.3M1177.7,869.7V1110.5H1310M1310,1105.3V1115.7M1310,1105.3H1330M1310,1115.7H1351.7"/>
<path class="br" d="M1180,1131H1207.7M1180,1128V1134M1207.7,1128V1134"/>
</g>
<g id="gltA-tips" style="stroke-width:1.1">
<path class="k Tg" d="M1325.3,47v10.37v10.37v10.37v10.37v10.37v10.37v10.37v10.37v10.37v10.37v10.37v10.37v10.37v10.37v10.37v10.37v10.37v10.37v10.37v10.37v10.37v10.37v10.37v10.37v10.37v10.37v10.37v10.37v10.37v10.37M1329.3,492.9v10.37v10.37v10.37v10.37v10.37M1329.3,565.5v10.37v10.37"/>
<path class="k Sg" d="M1329.3,368.5h0M1347.7,378.8h0M1338.3,389.2h0M1325.3,399.6v10.37v10.37v10.37M1329.3,555.1h0"/>
<path class="k Cg" d="M1325.3,441.1v10.37v10.37v10.37v10.37"/>
<path class="k Rd" d="M1351,596.6v10.3"/>
<path class="k Ty" d="M1319,627.7v10.37v10.37v10.37v10.37v10.37v10.37v10.37v10.37v10.37v10.37v10.37v10.37v10.37v10.37v10.37"/>
<path class="k Ok" d="M1258.3,814.4h0"/>
<path class="k Tb" d="M1282.7,855.9h0M1275,866.2v10.37v10.37v10.37v10.37v10.37v10.37v10.37v10.37v10.37v10.37v10.37v10.37v10.37v10.37v10.37v10.37"/>
<path class="k Ks" d="M1355,1063.7v10.4v10.4"/>
<text class="t"><tspan x="1331.7" y="50.7">A616</tspan><tspan x="1331.7" dy="10.37">A620</tspan><tspan x="1331.7" dy="10.37">A586</tspan><tspan x="1331.7" dy="10.37">A567</tspan><tspan x="1331.7" dy="10.37">A280</tspan><tspan x="1331.7" dy="10.37">A556</tspan><tspan x="1331.7" dy="10.37">A527</tspan><tspan x="1331.7" dy="10.37">A511</tspan><tspan x="1331.7" dy="10.37">A476</tspan><tspan x="1331.7" dy="10.37">A471</tspan><tspan x="1331.7" dy="10.37">A463</tspan><tspan x="1331.7" dy="10.37">A454</tspan><tspan x="1331.7" dy="10.37">A452</tspan><tspan x="1331.7" dy="10.37">A440</tspan><tspan x="1331.7" dy="10.37">A423</tspan><tspan x="1331.7" dy="10.37">A418</tspan><tspan x="1331.7" dy="10.37">A393</tspan><tspan x="1331.7" dy="10.37">A351</tspan><tspan x="1331.7" dy="10.37">A344</tspan><tspan x="1331.7" dy="10.37">A332</tspan><tspan x="1331.7" dy="10.37">A265</tspan><tspan x="1331.7" dy="10.37">A212</tspan><tspan x="1331.7" dy="10.37">A205</tspan><tspan x="1331.7" dy="10.37">A150</tspan><tspan x="1331.7" dy="10.37">A144</tspan><tspan x="1331.7" dy="10.37">A140</tspan><tspan x="1331.7" dy="10.37">A66</tspan><tspan x="1331.7" dy="10.37">A52</tspan><tspan x="1331.7" dy="10.37">A46</tspan><tspan x="1331.7" dy="10.37">A45</tspan><tspan x="1331.7" dy="10.37">A625</tspan><tspan x="1335.7" dy="10.37">A641</tspan><tspan x="1354.3" dy="10.37">A597</tspan><tspan x="1345" dy="10.37">A195</tspan><tspan x="1331.7" dy="10.37">A235</tspan><tspan x="1331.7" dy="10.37">A238</tspan><tspan x="1331.7" dy="10.37">A357</tspan><tspan x="1331.7" dy="10.37">A612</tspan><tspan x="1331.7" dy="10.37">A615</tspan><tspan x="1331.7" dy="10.37">A592</tspan><tspan x="1331.7" dy="10.37">A578</tspan><tspan x="1331.7" dy="10.37">A446</tspan><tspan x="1331.7" dy="10.37">A622</tspan><tspan x="1336" dy="10.37">A389</tspan><tspan x="1336" dy="10.37">A443</tspan><tspan x="1336" dy="10.37">A447</tspan><tspan x="1336" dy="10.37">A450</tspan><tspan x="1336" dy="10.37">A456</tspan><tspan x="1336" dy="10.37">A302</tspan><tspan x="1336" dy="10.37">A451</tspan><tspan x="1336" dy="10.37">A455</tspan><tspan x="1336" dy="10.37">A499</tspan><tspan x="1336" dy="10.37">A603</tspan><tspan x="1357.7" dy="10.37">A286</tspan><tspan x="1357.7" dy="10.37">A554</tspan><tspan x="1325" dy="20.74">A70</tspan><tspan x="1325" dy="10.37">A132</tspan><tspan x="1325" dy="10.37">A145</tspan><tspan x="1325" dy="10.37">A190</tspan><tspan x="1325" dy="10.37">A193</tspan><tspan x="1325" dy="10.37">A201</tspan><tspan x="1325" dy="10.37">A241</tspan><tspan x="1325" dy="10.37">A266</tspan><tspan x="1325" dy="10.37">A341</tspan><tspan x="1325" dy="10.37">A419</tspan><tspan x="1325" dy="10.37">A444</tspan><tspan x="1325" dy="10.37">A468</tspan><tspan x="1325" dy="10.37">A475</tspan><tspan x="1325" dy="10.37">A550</tspan><tspan x="1325" dy="10.37">A290</tspan><tspan x="1325" dy="10.37">A614</tspan><tspan x="1265" y="818.1">A296</tspan><tspan x="1289.3" y="859.6">A202</tspan><tspan x="1281.7" dy="10.37">A77</tspan><tspan x="1281.7" dy="10.37">A148</tspan><tspan x="1281.7" dy="10.37">A149</tspan><tspan x="1281.7" dy="10.37">A181</tspan><tspan x="1281.7" dy="10.37">A197</tspan><tspan x="1281.7" dy="10.37">A210</tspan><tspan x="1281.7" dy="10.37">A213</tspan><tspan x="1281.7" dy="10.37">A216</tspan><tspan x="1281.7" dy="10.37">A358</tspan><tspan x="1281.7" dy="10.37">A368</tspan><tspan x="1281.7" dy="10.37">A382</tspan><tspan x="1281.7" dy="10.37">A427</tspan><tspan x="1281.7" dy="10.37">A445</tspan><tspan x="1281.7" dy="10.37">A599</tspan><tspan x="1281.7" dy="10.37">A610</tspan><tspan x="1281.7" dy="10.37">A619</tspan><tspan x="1281.7" dy="10.37">A621</tspan><tspan x="1361.7" y="1067.4">A340</tspan><tspan x="1361.7" y="1077.8">A386</tspan><tspan x="1361.7" y="1088.2">A538</tspan></text>
<text class="s"><tspan x="1335.7" y="621.4">B. taylorii</tspan><tspan x="1319.3" y="797.6">B. alsatica</tspan><tspan x="1310.7" y="808">B. birtlesii</tspan><tspan x="1336.7" y="828.8">B. elizabethae</tspan><tspan x="1319" y="839.1">B. tribocorum</tspan><tspan x="1270" y="849.5">B. grahamii</tspan><tspan x="1354.3" y="1046.5">B. doshiae</tspan><tspan x="1335" y="1109.3">B. rochalimae</tspan><tspan x="1354.3" y="1119.7">B. clarridgeiae</tspan></text>
</g>
<g id="gltA-support">
<text class="b" x="1313.3" y="201.6">86</text><text class="b" x="1308.3" y="327.4">88</text><text class="b" x="1277.7" y="562.3">98</text><text class="b" x="1338.3" y="599.6">99</text><text class="b" x="1301" y="673.1">98</text><text class="b" x="1305" y="716.9">98</text><text class="b" x="1221" y="849.4">91</text><text class="b" x="1252.3" y="874.3">79</text><text class="b" x="1258.3" y="906.2">99</text><text class="b" x="1335" y="1069.6">99</text><text class="b" x="1341.7" y="1085.1">93</text><text class="b" x="1301.7" y="1121.5">99</text>
<text class="sc" x="1193.8" y="1146">0.02</text>
</g>
</g>

<!-- ===== ftsZ ===== -->
<g id="tree-ftsZ">
<text class="h" x="1595" y="27">ftsZ</text>
<g id="ftsZ-edges">
<path class="br" d="M1602.3,159.8V575.2M1602.3,362.7H1606.5M1602.3,565.5H1608.3M1602.3,575.2H1610.5M1597.7,367.5H1602.3M1597.7,367.5V613.8M1597.7,613.8H1602.3M1602.3,584.8V642.8M1593.3,490.7H1597.7M1593.3,490.7V698H1604.3M1604.3,652.5V797.4M1586.7,594.4H1593.3M1586.7,594.4V814.3H1597.3M1597.3,807V821.5M1597.3,807H1610M1597.3,821.5H1599.3M1599.3,816.7V826.3M1555,704.4H1586.7M1555,704.4V841.8H1571.7M1571.7,837V846.5M1571.7,837H1626.7M1571.7,846.5H1631.7M1540.7,773.1H1555M1540.7,773.1V864H1630M1630,856.5V871.4M1630,856.5H1638M1630,871.4H1633.3M1633.3,866.5V876.2M1513.3,818.6H1540.7M1513.3,818.6V951.4H1562.7M1562.7,900.7V1002M1562.7,900.7H1576.7M1576.7,895.9V905.4M1576.7,895.9H1600M1576.7,905.4H1599.3M1562.7,1002H1589.3M1589.3,915V1089M1589.3,915H1593M1589.3,924.7H1593M1475,885H1513.3M1475,885V1105.8H1582.7M1582.7,1098.5V1113M1582.7,1098.5H1603.3M1582.7,1113H1595M1595,1108.2V1117.8M1595,1108.2H1636.7M1595,1117.8H1633"/>
<path class="th" d="M1604.3,690V750"/>
<path class="br" d="M1476.7,1122.3H1500.7M1476.7,1119.3V1125.3M1500.7,1119.3V1125.3"/>
</g>
<g id="ftsZ-tips" style="stroke-width:1.05">
<path class="k Tg" d="M1606.7,159.8v9.66v9.66v9.66v9.66v9.66M1606.7,227.4v9.66v9.66v9.66v9.66v9.66v9.66v9.66v9.66v9.66v9.66v9.66v9.66v9.66M1608.3,362.7h0M1606.7,372.3v9.66v9.66v9.66v9.66v9.66M1606.7,439.9v9.66M1606.7,468.9v9.66M1606.7,497.9v9.66v9.66v9.66v9.66v9.66v9.66"/>
<path class="k Cg" d="M1606.7,217.8h0M1606.7,430.3h0M1606.7,459.3h0M1606.7,488.2h0M1612.3,575.2h0"/>
<path class="k Sg" d="M1610,565.5h0M1607.7,584.8v9.66v9.66v9.66v9.66v9.66v9.66"/>
<path class="k Ty" d="M1608.3,652.5v9.66v9.66v9.66v9.66v9.66v9.66v9.66v9.66v9.66v9.66v9.66v9.66v9.66v9.66v9.66"/>
<path class="k Rd" d="M1602.3,816.7v9.6"/>
<path class="k Ks" d="M1636.7,866.5v9.7"/>
<path class="k Tb" d="M1595,915v9.7M1594,944.1v9.66v9.66v9.66v9.66v9.66v9.66v9.66v9.66v9.66v9.66v9.66v9.66v9.66v9.66v9.66"/>
<path class="k Ok" d="M1635,1117.8h0"/>
<text class="t"><tspan x="1612.7" y="163.5">A456</tspan><tspan x="1612.7" dy="9.66">A463</tspan><tspan x="1612.7" dy="9.66">A454</tspan><tspan x="1612.7" dy="9.66">A452</tspan><tspan x="1612.7" dy="9.66">A450</tspan><tspan x="1612.7" dy="9.66">A447</tspan><tspan x="1612.7" dy="9.66">A446</tspan><tspan x="1612.7" dy="9.66">A443</tspan><tspan x="1612.7" dy="9.66">A440</tspan><tspan x="1612.7" dy="9.66">A423</tspan><tspan x="1612.7" dy="9.66">A418</tspan><tspan x="1612.7" dy="9.66">A393</tspan><tspan x="1612.7" dy="9.66">A389</tspan><tspan x="1612.7" dy="9.66">A351</tspan><tspan x="1612.7" dy="9.66">A344</tspan><tspan x="1612.7" dy="9.66">A332</tspan><tspan x="1612.7" dy="9.66">A265</tspan><tspan x="1612.7" dy="9.66">A212</tspan><tspan x="1612.7" dy="9.66">A205</tspan><tspan x="1612.7" dy="9.66">A150</tspan><tspan x="1612.7" dy="9.66">A144</tspan><tspan x="1614.7" dy="9.66">A140</tspan><tspan x="1612.7" dy="9.66">A471</tspan><tspan x="1612.7" dy="9.66">A476</tspan><tspan x="1612.7" dy="9.66">A511</tspan><tspan x="1612.7" dy="9.66">A527</tspan><tspan x="1612.7" dy="9.66">A556</tspan><tspan x="1612.7" dy="9.66">A567</tspan><tspan x="1612.7" dy="9.66">A578</tspan><tspan x="1612.7" dy="9.66">A586</tspan><tspan x="1612.7" dy="9.66">A603</tspan><tspan x="1612.7" dy="9.66">A615</tspan><tspan x="1612.7" dy="9.66">A616</tspan><tspan x="1612.7" dy="9.66">A620</tspan><tspan x="1612.7" dy="9.66">A622</tspan><tspan x="1612.7" dy="9.66">A625</tspan><tspan x="1612.7" dy="9.66">A455</tspan><tspan x="1612.7" dy="9.66">A66</tspan><tspan x="1612.7" dy="9.66">A52</tspan><tspan x="1612.7" dy="9.66">A46</tspan><tspan x="1612.7" dy="9.66">A45</tspan><tspan x="1612.7" dy="9.66">A280</tspan><tspan x="1616" dy="9.66">A451</tspan><tspan x="1619" dy="9.66">A592</tspan><tspan x="1614.3" dy="9.66">A238</tspan><tspan x="1614.3" dy="9.66">A641</tspan><tspan x="1614.3" dy="9.66">A195</tspan><tspan x="1614.3" dy="9.66">A235</tspan><tspan x="1614.3" dy="9.66">A357</tspan><tspan x="1614.3" dy="9.66">A597</tspan><tspan x="1614.3" dy="9.66">A612</tspan><tspan x="1615" dy="9.66">A290</tspan><tspan x="1615" dy="9.66">A70</tspan><tspan x="1615" dy="9.66">A132</tspan><tspan x="1615" dy="9.66">A145</tspan><tspan x="1615" dy="9.66">A190</tspan><tspan x="1615" dy="9.66">A193</tspan><tspan x="1615" dy="9.66">A201</tspan><tspan x="1615" dy="9.66">A241</tspan><tspan x="1615" dy="9.66">A266</tspan><tspan x="1615" dy="9.66">A341</tspan><tspan x="1615" dy="9.66">A419</tspan><tspan x="1615" dy="9.66">A444</tspan><tspan x="1615" dy="9.66">A468</tspan><tspan x="1615" dy="9.66">A475</tspan><tspan x="1615" dy="9.66">A550</tspan><tspan x="1615" dy="9.66">A614</tspan><tspan x="1608.3" dy="19.32">A286</tspan><tspan x="1608.3" dy="9.66">A554</tspan><tspan x="1644" y="870.2">A340</tspan><tspan x="1644" y="879.9">A538</tspan><tspan x="1601.7" y="918.7">A621</tspan><tspan x="1601.7" y="928.4">A358</tspan><tspan x="1600.7" y="947.8">A77</tspan><tspan x="1600.7" dy="9.66">A148</tspan><tspan x="1600.7" dy="9.66">A149</tspan><tspan x="1600.7" dy="9.66">A181</tspan><tspan x="1600.7" dy="9.66">A197</tspan><tspan x="1600.7" dy="9.66">A202</tspan><tspan x="1600.7" dy="9.66">A210</tspan><tspan x="1600.7" dy="9.66">A213</tspan><tspan x="1600.7" dy="9.66">A216</tspan><tspan x="1600.7" dy="9.66">A368</tspan><tspan x="1600.7" dy="9.66">A382</tspan><tspan x="1600.7" dy="9.66">A427</tspan><tspan x="1600.7" dy="9.66">A445</tspan><tspan x="1600.7" dy="9.66">A599</tspan><tspan x="1600.7" dy="9.66">A610</tspan><tspan x="1600.7" dy="9.66">A619</tspan><tspan x="1641" y="1121.5">A296</tspan></text>
<text class="s"><tspan x="1612.7" y="811">B. taylorii</tspan><tspan x="1629.3" y="841">B. alsatica</tspan><tspan x="1634.3" y="850.5">B. birtlesii</tspan><tspan x="1640" y="860.5">B. doshiae</tspan><tspan x="1603.3" y="899.9">B. elizabethae</tspan><tspan x="1602.7" y="909.4">B. tribocorum</tspan><tspan x="1593.3" y="938.4">B. grahamii</tspan><tspan x="1605.7" y="1102.5">B. rochalimae</tspan><tspan x="1639.3" y="1112.2">B. clarridgeiae</tspan></text>
</g>
<g id="ftsZ-support">
<text class="b" x="1595" y="365.4">99</text><text class="b" x="1589" y="488.6">96</text><text class="b" x="1585" y="588.5">81</text><text class="b" x="1596.7" y="624">99</text><text class="b" x="1595" y="701">97</text><text class="b" x="1580" y="702.1">99</text><text class="b" x="1596.7" y="739.9">85</text><text class="b" x="1533.3" y="817.1">80</text><text class="b" x="1590.7" y="827.2">99</text><text class="b" x="1622.7" y="874.3">99</text><text class="b" x="1622.7" y="883.9">75</text><text class="b" x="1568.3" y="910.7">98</text><text class="b" x="1555" y="960.8">99</text><text class="b" x="1581.7" y="1010.9">99</text><text class="b" x="1575" y="1115.6">99</text>
<text class="sc" x="1488.7" y="1137">0.02</text>
</g>
</g>
</svg>
